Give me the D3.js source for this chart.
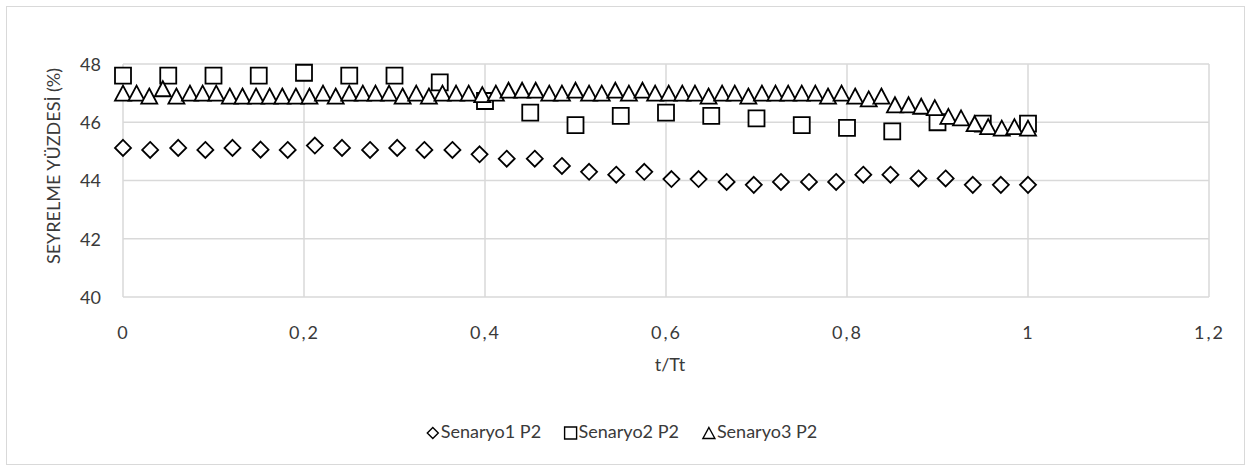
<!DOCTYPE html>
<html><head><meta charset="utf-8">
<script src="https://cdn.jsdelivr.net/npm/d3@7"></script>
<style>body{margin:0;background:#fff} text{font-family: Lato, "Open Sans", sans-serif; fill:#3a3a3a;}</style>
</head><body><svg id="c" width="1252" height="472"></svg>
<script>
const xTicks = [0, 0.2, 0.4, 0.6, 0.8, 1, 1.2];
const xTickLabels = ["0", "0,2", "0,4", "0,6", "0,8", "1", "1,2"];
const yTicks = [40, 42, 44, 46, 48];
const yTickLabels = ["40", "42", "44", "46", "48"];
const seriesNames = ["Senaryo1 P2", "Senaryo2 P2", "Senaryo3 P2"];

const s1X = [0,0.030,0.061,0.091,0.121,0.152,0.182,0.212,0.242,0.273,0.303,0.333,0.364,0.394,0.424,0.455,0.485,0.515,0.545,0.576,0.606,0.636,0.667,0.697,0.727,0.758,0.788,0.818,0.848,0.879,0.909,0.939,0.970,1.000];
const s1Y = [45.12,45.05,45.12,45.05,45.12,45.06,45.05,45.2,45.12,45.05,45.12,45.05,45.05,44.9,44.75,44.75,44.5,44.3,44.2,44.3,44.05,44.05,43.95,43.85,43.95,43.95,43.95,44.2,44.2,44.07,44.07,43.85,43.85,43.85];

const s2X = [0,0.05,0.1,0.15,0.2,0.25,0.3,0.35,0.4,0.45,0.5,0.55,0.6,0.65,0.7,0.75,0.8,0.85,0.9,0.95,1.0];
const s2Y = [47.6,47.6,47.6,47.6,47.7,47.6,47.6,47.37,46.73,46.33,45.9,46.22,46.33,46.22,46.13,45.9,45.81,45.69,46.0,45.95,45.95];

const s3X = [0,0.015,0.029,0.044,0.059,0.074,0.088,0.103,0.118,0.132,
0.147,0.162,0.176,0.191,0.206,0.221,0.235,0.250,0.265,0.279,
0.294,0.309,0.324,0.338,0.353,0.368,0.382,0.397,0.412,0.426,
0.441,0.456,0.471,0.485,0.500,0.515,0.529,0.544,0.559,0.574,
0.588,0.603,0.618,0.632,0.647,0.662,0.676,0.691,0.706,0.721,
0.735,0.750,0.765,0.779,0.794,0.809,0.824,0.838,0.853,0.868,
0.882,0.897,0.912,0.926,0.941,0.956,0.971,0.985,1.000];
const s3Y = [47.0,47.0,46.9,47.15,46.9,47.0,47.0,47.0,46.9,46.9,
46.9,46.9,46.9,46.9,46.9,47.0,46.9,47.0,47.0,47.0,
47.0,46.9,47.0,46.9,47.0,47.0,47.0,46.95,47.0,47.1,
47.1,47.1,47.0,47.0,47.1,47.0,47.0,47.1,47.0,47.1,
47.0,47.0,47.0,47.0,46.9,47.0,47.0,46.9,47.0,47.0,
47.0,47.0,47.0,46.9,47.0,46.9,46.8,46.9,46.6,46.6,
46.55,46.5,46.2,46.15,45.95,45.85,45.8,45.85,45.8];

const svg = d3.select("#c");
const grid = "#d9d9d9";
svg.append("rect").attr("x",6.5).attr("y",6.5).attr("width",1238).attr("height",458)
  .attr("fill","#fff").attr("stroke",grid).attr("stroke-width",1);

const x = d3.scaleLinear().domain([0,1.2]).range([123,1209]);
const y = d3.scaleLinear().domain([40,48]).range([297,64]);

// gridlines
svg.append("g").selectAll("line.h").data(yTicks).join("line")
  .attr("x1",x(0)).attr("x2",x(1.2)).attr("y1",d=>y(d)).attr("y2",d=>y(d))
  .attr("stroke",grid).attr("stroke-width",1.5);
svg.append("g").selectAll("line.v").data(xTicks).join("line")
  .attr("x1",d=>x(d)).attr("x2",d=>x(d)).attr("y1",y(40)).attr("y2",y(48))
  .attr("stroke",grid).attr("stroke-width",1.5);

// axes tick labels via d3 axes
const xAxis = d3.axisBottom(x).tickValues(xTicks).tickFormat((d,i)=>xTickLabels[i]).tickSize(0).tickPadding(0);
const gx = svg.append("g").attr("transform",`translate(0,${y(40)+37})`).call(xAxis);
gx.select(".domain").remove();
gx.selectAll("text").attr("font-size",18).attr("fill","#3a3a3a").attr("letter-spacing","2px")
  .attr("font-family","Lato, 'Open Sans', sans-serif").attr("dy",0).attr("dominant-baseline","middle");

const yAxis = d3.axisLeft(y).tickValues(yTicks).tickFormat((d,i)=>yTickLabels[i]).tickSize(0).tickPadding(0);
const gy = svg.append("g").attr("transform",`translate(101,0)`).call(yAxis);
gy.select(".domain").remove();
gy.selectAll("text").attr("font-size",18).attr("fill","#3a3a3a")
  .attr("font-family","Lato, 'Open Sans', sans-serif").attr("dy","0.35em");

// axis titles
svg.append("text").attr("x",(x(0)+x(1.2))/2 + 4).attr("y",366).attr("text-anchor","middle")
  .attr("dominant-baseline","middle").attr("font-size",18).text("t/Tt");
svg.append("text").attr("transform",`translate(55,166) rotate(-90)`).attr("text-anchor","middle")
  .attr("dominant-baseline","middle").attr("font-size",18).text("SEYRELME YÜZDESİ (%)");

// marker shapes
const diamondPath = r => `M0,${-r}L${r},0L0,${r}L${-r},0Z`;
const squarePath = r => `M${-r},${-r}H${r}V${r}H${-r}Z`;
const trianglePath = (w,h) => `M0,${-h/2}L${w/2},${h/2}L${-w/2},${h/2}Z`;

function drawSeries(xs, ys, path){
  const g = svg.append("g");
  g.selectAll("path").data(xs.map((d,i)=>[d,ys[i]])).join("path")
    .attr("d",path).attr("transform",d=>`translate(${x(d[0])},${y(d[1])})`)
    .attr("stroke","#000").attr("stroke-width",1.8).attr("fill","#fff");
}
drawSeries(s1X, s1Y, diamondPath(8));
drawSeries(s2X, s2Y, squarePath(8));
drawSeries(s3X, s3Y, trianglePath(16,15));

// legend
const legendShapes = [diamondPath(5.5), squarePath(6), trianglePath(12,11)];
const lg = svg.append("g");
const items = seriesNames.map((n,i)=>({n, p:legendShapes[i]}));
let cx = 0;
const groups = lg.selectAll("g").data(items).join("g");
groups.append("path").attr("d",d=>d.p).attr("fill","#fff").attr("stroke","#000").attr("stroke-width",1.4);
groups.append("text").attr("x",8).attr("dominant-baseline","middle").attr("font-size",18).text(d=>d.n);
groups.each(function(){
  const w = this.getBBox().width;
  d3.select(this).attr("transform",`translate(${cx+6},0)`);
  cx += w + 24;
});
const totalW = cx - 24;
lg.attr("transform",`translate(${622 - totalW/2},433)`);
</script></body></html>
